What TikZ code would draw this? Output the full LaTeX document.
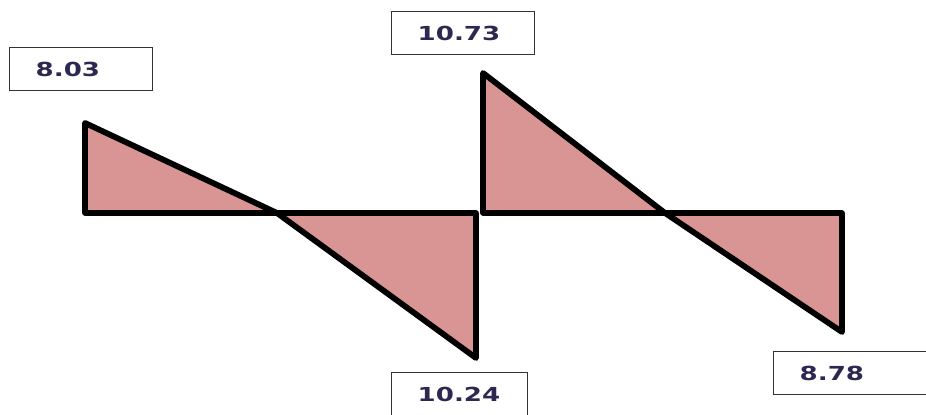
\documentclass[tikz,border=0pt]{standalone}
\usepackage{fontspec}
\usepackage{tikz}
\newfontfamily\valfont[FakeStretch=1.35]{DejaVu Sans}
\definecolor{shearfill}{RGB}{217,149,148}
\definecolor{valtext}{RGB}{45,40,80}

\begin{document}
\begin{tikzpicture}[x=0.02cm,y=-0.02cm,
  shear/.style={fill=shearfill,draw=black,line width=3.3pt,line join=round},
  valbox/.style={draw=black!80,line width=0.8pt,anchor=north west,inner xsep=0.52cm,
    align=left,minimum height=0.86cm,font=\valfont\fontsize{11}{13}\selectfont\bfseries,text=valtext}]
\useasboundingbox (0,0) rectangle (926,415);

% shear force diagram
\draw[shear] (85,123) -- (85,213) -- (277,213) -- cycle;
\draw[shear] (277,213) -- (476,213) -- (476,358) -- cycle;
\draw[shear] (483,73) -- (483,213) -- (665,213) -- cycle;
\draw[shear] (665,213) -- (842,213) -- (842,332) -- cycle;

% values
\node[valbox,text width=1.82cm] (v1) at (9,47) {8.03};
\node[valbox,text width=1.82cm] (v2) at (391,11) {10.73};
\node[valbox,text width=1.68cm] (v3) at (391,372) {10.24};
\node[valbox,text width=2.3cm] (v4) at (773,351) {8.78};
\end{tikzpicture}
\end{document}
